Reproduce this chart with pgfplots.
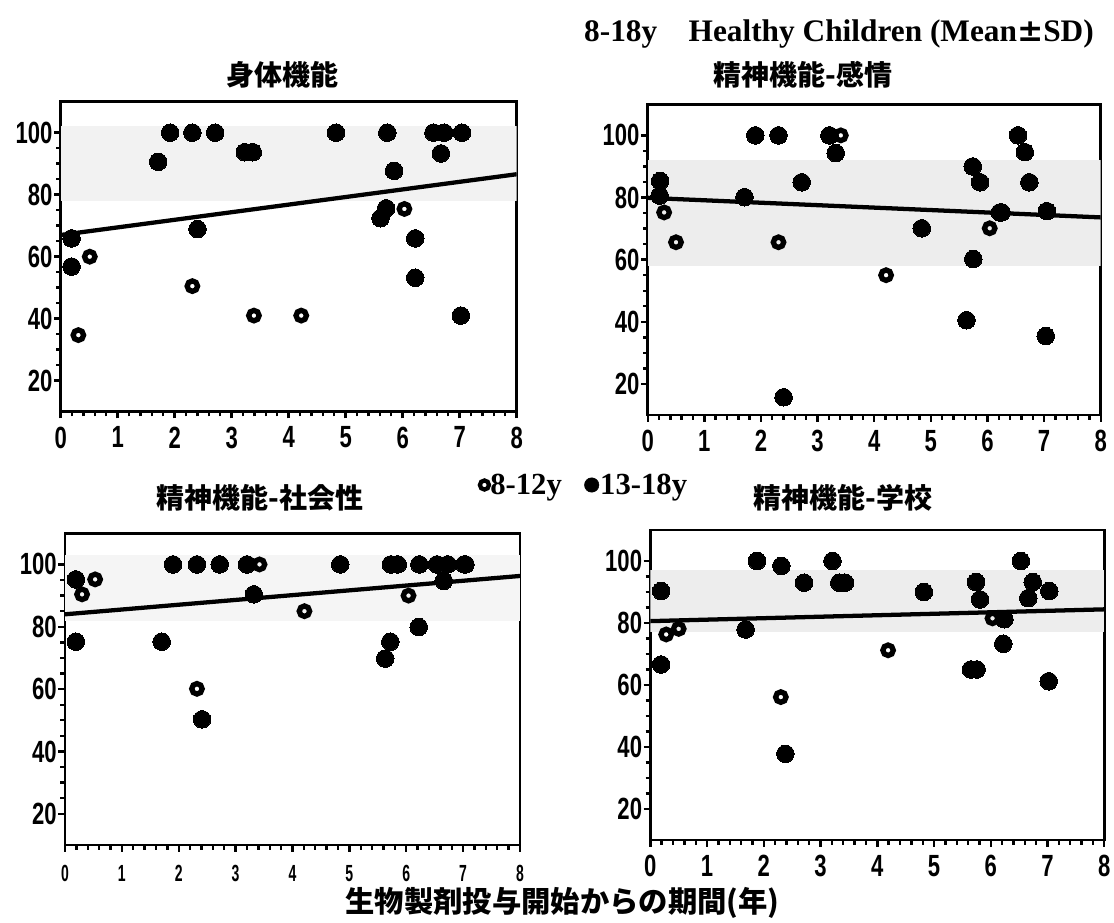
\documentclass[border=0pt]{standalone}
\usepackage{fontspec}
\usepackage{pgfplots}
\pgfplotsset{compat=1.18}
\newfontfamily\tickfont{Liberation Sans}[FakeStretch=0.72]
\newfontfamily\smalltick{Liberation Sans}[FakeStretch=0.6]
\newfontfamily\serifb{Liberation Serif}
\newfontfamily\jp{Noto Sans CJK JP}
\pgfplotsset{
  panel/.style={
    scale only axis, xmin=0, xmax=8, ymin=10, ymax=110,
    xtick={0,1,...,8}, ytick={20,40,60,80,100},
    minor x tick num=4, minor y tick num=3,
    tick align=outside, xtick pos=left, ytick pos=left,
    axis line style={line width=2.2pt},
    every tick/.style={black, line width=1.8pt},
    major tick length=5pt, minor tick length=3.5pt,
    /pgf/number format/assume math mode=true,
    ticklabel style={font=\tickfont\bfseries\fontsize{23}{23}\selectfont, inner sep=1pt},
    xticklabel style={yshift=-5pt},
  },
  band/.style={fill=black!5, draw=none, forget plot},
  regline/.style={black, line width=3.2pt, forget plot},
  openpt/.style={only marks, mark=o, mark size=3.9pt, mark options={line width=4pt, draw=black}},
  fillpt/.style={only marks, mark=*, mark size=6.6pt, mark options={fill=black, draw=black, line width=0pt}},
}
\begin{document}
\begin{tikzpicture}
\useasboundingbox (0,0) rectangle (835.5pt,692.25pt);
% ---------- top left
\begin{axis}[panel, at={(45.525pt,383.475pt)}, anchor=south west, width=342pt, height=232.5pt,
  legend style={at={(1.148,-0.2365)}, anchor=center, draw=none, fill=none, legend columns=2,
    font=\serifb\bfseries\fontsize{23}{23}\selectfont,
    /tikz/every even column/.append style={column sep=16pt},
    nodes={inner xsep=1pt}},
  legend image code/.code={\draw[#1] plot coordinates {(0.15cm,0cm)};},
  legend cell align=left]
\addplot[band] coordinates {(0,78) (8,78) (8,102) (0,102)} -- cycle;
\addplot[regline] coordinates {(0,67) (8,86.6)};
\addplot[openpt, forget plot] coordinates {(0.31,34.7)(0.51,60)(2.31,50.5)(3.39,41)(4.22,41)(6.03,75.4)};
\addplot[fillpt, forget plot] coordinates {(0.19,65.9)(0.19,56.8)(1.71,90.6)(1.92,100)(2.31,100)(2.40,68.9)(2.71,100)(3.23,93.7)(3.37,93.7)(4.83,100)(5.61,72.4)(5.71,75.6)(5.73,100)(5.85,87.7)(6.22,65.9)(6.22,53.2)(6.54,100)(6.67,93.3)(6.73,100)(7.02,41)(7.04,100)};
\addlegendimage{only marks, mark=o, mark size=3.4pt, mark options={line width=3.2pt, draw=black, scale=1}}
\addlegendentry{8-12y}
\addlegendimage{only marks, mark=*, mark size=5.4pt, mark options={fill=black, draw=black, scale=1}}
\addlegendentry{13-18y}
\end{axis}
% ---------- top right
\begin{axis}[panel, at={(485.775pt,381pt)}, anchor=south west, width=339.75pt, height=233pt]
\addplot[band, fill=black!7] coordinates {(0,58) (8,58) (8,92) (0,92)} -- cycle;
\addplot[regline] coordinates {(0,79.9) (8,73.6)};
\addplot[openpt] coordinates {(0.29,75.2)(0.50,65.6)(2.31,65.6)(3.41,100)(4.21,55)(6.04,70.1)};
\addplot[fillpt] coordinates {(0.22,85.3)(0.21,80.6)(1.71,80.1)(1.90,100)(2.31,100)(2.40,15.7)(2.72,84.9)(3.21,100)(3.32,94.3)(4.84,70.1)(5.63,40.5)(5.74,90)(5.75,60.2)(5.87,84.9)(6.22,75.2)(6.25,75.2)(6.54,100)(6.66,94.6)(6.74,84.9)(7.03,35.4)(7.05,75.6)};
\end{axis}
% ---------- bottom left
\begin{axis}[panel, at={(48.75pt,58.5pt)}, anchor=south west, width=341.25pt, height=233.8pt,
  xticklabel style={font=\smalltick\bfseries\fontsize{17.5}{17.5}\selectfont, yshift=-4pt}]
\addplot[band, fill=black!4] coordinates {(0,82) (8,82) (8,103) (0,103)} -- cycle;
\addplot[regline] coordinates {(0,84) (8,96.3)};
\addplot[openpt] coordinates {(0.30,90.4)(0.53,95.2)(2.32,60.1)(3.42,100)(4.21,85)(6.04,90)};
\addplot[fillpt] coordinates {(0.19,95.2)(0.19,75.2)(1.70,75.2)(1.90,100)(2.32,100)(2.41,50.3)(2.72,100)(3.20,100)(3.32,90.4)(4.84,100)(5.63,69.8)(5.72,75.2)(5.73,100)(5.85,100)(6.22,79.9)(6.23,100)(6.54,100)(6.66,94.7)(6.73,100)(7.02,100)(7.04,100)};
\end{axis}
% ---------- bottom right
\begin{axis}[panel, at={(487.725pt,62.25pt)}, anchor=south west, width=340.5pt, height=232.5pt]
\addplot[band, fill=black!7] coordinates {(0,77) (8,77) (8,97) (0,97)} -- cycle;
\addplot[regline] coordinates {(0,80.6) (8,84.4)};
\addplot[openpt] coordinates {(0.28,76.3)(0.50,78.1)(2.30,56.1)(4.19,71.2)(6.03,81.5)};
\addplot[fillpt] coordinates {(0.19,90.3)(0.19,66.6)(1.68,77.9)(1.88,100)(2.31,98.4)(2.38,37.8)(2.71,93)(3.21,100)(3.33,93)(3.43,93)(4.82,90)(5.65,65)(5.75,65)(5.74,93.2)(5.81,87.6)(6.22,73.3)(6.24,81.2)(6.53,100)(6.66,88)(6.74,93.2)(7.03,90.3)(7.02,61.2)};
\end{axis}
% ---------- texts
\node[font=\serifb\bfseries\fontsize{23.5}{23.5}\selectfont] at (629.25pt,667pt) {8-18y\quad Healthy Children (Mean{\fontspec{DejaVu Sans}±}SD)};
\node[font=\jp\bfseries\fontsize{21}{21}\selectfont] at (211.5pt,636pt) {身体機能};
\node[font=\jp\bfseries\fontsize{21}{21}\selectfont] at (602pt,636pt) {精神機能-感情};
\node[font=\jp\bfseries\fontsize{21}{21}\selectfont] at (195pt,318.75pt) {精神機能-社会性};
\node[font=\jp\bfseries\fontsize{21}{21}\selectfont] at (632.25pt,318.75pt) {精神機能-学校};
\node[font=\jp\bfseries\fontsize{22}{22}\selectfont] at (421.9pt,15pt) {生物製剤投与開始からの期間(年)};
\end{tikzpicture}
\end{document}
